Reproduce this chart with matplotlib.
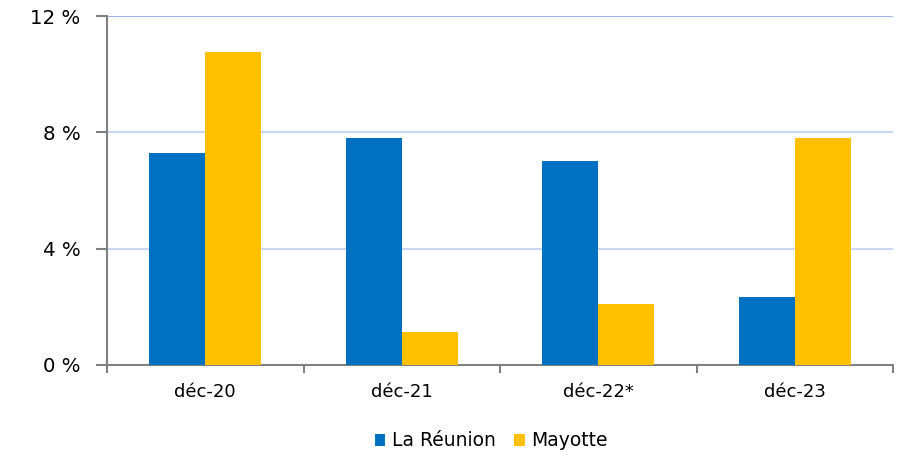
import matplotlib.pyplot as plt
import numpy as np

categories = ["déc-20", "déc-21", "déc-22*", "déc-23"]
reunion = [7.3, 7.8, 7.0, 2.35]
mayotte = [10.75, 1.15, 2.1, 7.8]
yticks = [0, 4, 8, 12]
ytick_labels = ["0 %", "4 %", "8 %", "12 %"]

plt.rcParams['font.family'] = ['DejaVu Sans']
fig = plt.figure(figsize=(9.05, 4.55), dpi=100)
ax = fig.add_axes([107 / 905, 1 - 365 / 455, (893 - 107) / 905, (365 - 16) / 455])

x = np.arange(len(categories))
w = 0.285
ax.bar(x - w / 2, reunion, w, color="#0070C0", label="La Réunion", zorder=3)
ax.bar(x + w / 2, mayotte, w, color="#FFC000", label="Mayotte", zorder=3)

ax.set_xlim(-0.5, len(categories) - 0.5)
ax.set_ylim(0, 12)
ax.set_yticks(yticks)
ax.set_yticklabels(ytick_labels, fontsize=14.2)
ax.set_xticks(x)
ax.set_xticklabels(categories, fontsize=13)
ax.tick_params(axis='x', length=0, pad=13)
ax.tick_params(axis='y', length=8, color="#808080", width=1.5, pad=11)
# category boundary ticks
ax.set_xticks(np.arange(-0.5, len(categories), 1), minor=True)
ax.tick_params(axis='x', which='minor', length=6, color="#808080", width=1.5)

for v in yticks[1:]:
    ax.axhline(v, color="#C9D7F0" if v < 12 else "#9DB6E4", lw=1.5, zorder=1)

for s in ["top", "right"]:
    ax.spines[s].set_visible(False)
ax.spines["left"].set_color("#808080")
ax.spines["bottom"].set_color("#808080")
ax.spines["left"].set_linewidth(1.5)
ax.spines["bottom"].set_linewidth(1.5)

fig.legend(loc="center", bbox_to_anchor=(0.543, 1 - 441 / 455), ncol=2, frameon=False,
           fontsize=13.5, handlelength=0.55, handleheight=0.55, handletextpad=0.35,
           columnspacing=1.0)

plt.savefig("out.png", dpi=100)
